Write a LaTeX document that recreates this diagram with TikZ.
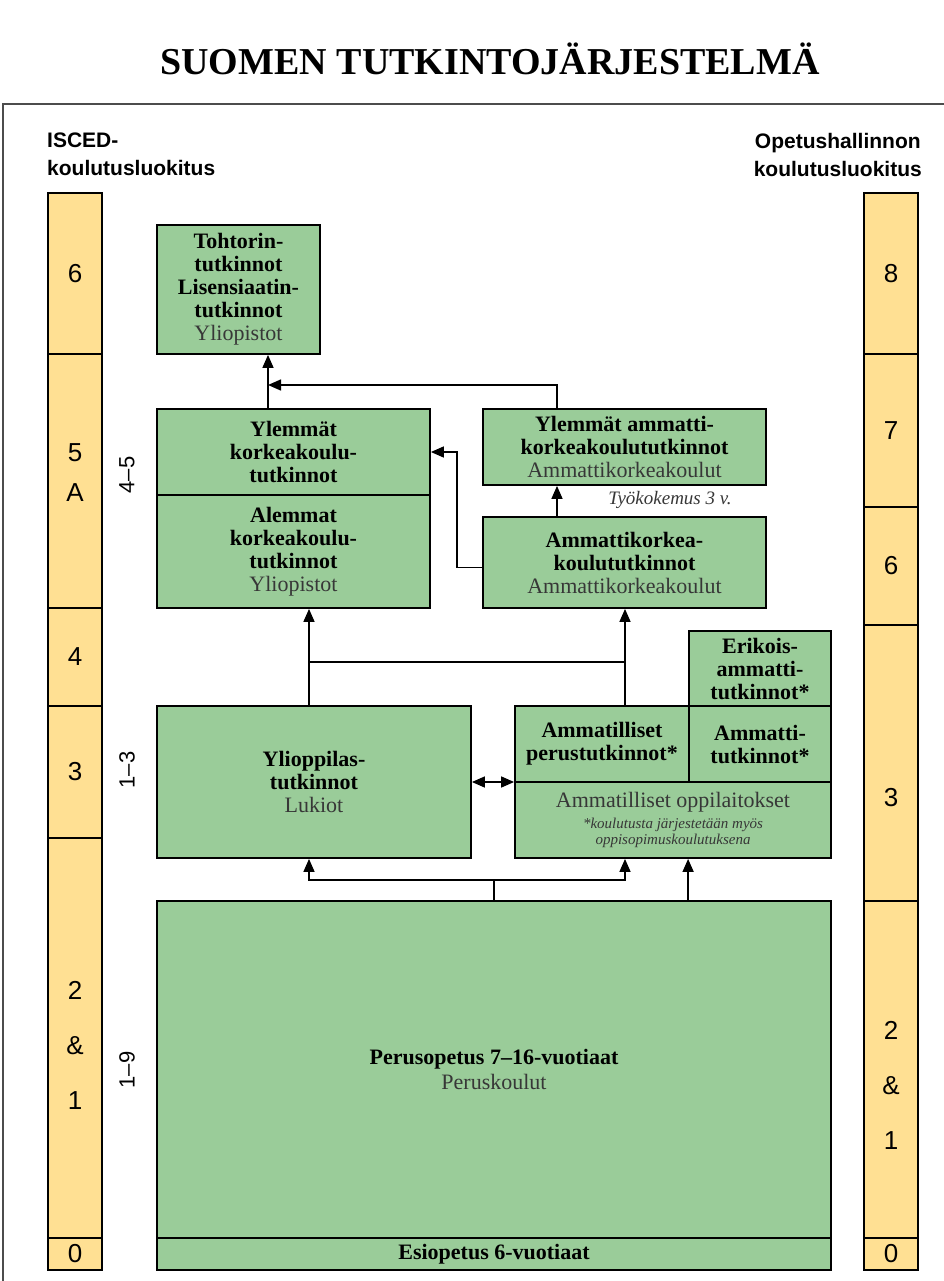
\documentclass[tikz,border=0pt]{standalone}
\usepackage{fontspec}
\setmainfont{Liberation Serif}
\setsansfont{Liberation Sans}
\usetikzlibrary{arrows.meta}
\definecolor{tgreen}{RGB}{154,204,153}
\definecolor{tyellow}{RGB}{255,224,147}
\definecolor{tgray}{RGB}{55,55,55}
\tikzset{
  box/.style={draw, line width=1.8pt, fill=tgreen, inner sep=0pt, align=center,
    font=\fontsize{22}{23}\selectfont\bfseries},
  lvl/.style={draw, line width=1.4pt, fill=tyellow, inner sep=0pt, minimum width=54pt,
    align=center, font=\sffamily\fontsize{26}{30}\selectfont},
  side/.style={inner sep=0pt, font=\sffamily\bfseries\fontsize{21}{28}\selectfont},
  band/.style={rotate=90, inner sep=0pt, font=\sffamily\fontsize{22}{24}\selectfont},
  >={Triangle[width=11pt,length=13pt]}
}
\newcommand{\inst}[1]{{\mdseries\color{tgray}#1}}
\newcommand{\huom}[1]{{\mdseries\itshape\color{tgray}\fontsize{15}{16}\selectfont #1}}

\begin{document}
\begin{tikzpicture}[x=1pt,y=-1pt]
\useasboundingbox (0,0) rectangle (944,1281);
\node[font=\bfseries\fontsize{38}{40}\selectfont, anchor=base] (title) at (490,75) {SUOMEN TUTKINTOJÄRJESTELMÄ};
\draw[line width=1.2pt, black!70] (944,104) -- (3,104) -- (3,1281);

% luokitukset
\node[side, anchor=north west, align=left] (isced) at (47,133) {ISCED-\\koulutusluokitus};
\node[side, anchor=north east, align=center] (oph) at (922,133) {Opetushallinnon\\koulutusluokitus};
\node[lvl, minimum height=161pt] (i6) at (75,273.5) {6};
\node[lvl, minimum height=254pt] (i5) at (75,481) {5\\[10pt]A\rule[-16pt]{0pt}{0pt}};
\node[lvl, minimum height=98pt] (i4) at (75,657) {4};
\node[lvl, minimum height=132pt] (i3) at (75,772) {3};
\node[lvl, minimum height=400pt] (i21) at (75,1038) {\rule{0pt}{33pt}2\\[25pt]\&\\[25pt]1};
\node[lvl, minimum height=32pt] (i0) at (75,1254) {0};
\node[lvl, minimum height=161pt] (o8) at (891,273.5) {8};
\node[lvl, minimum height=153pt] (o7) at (891,430.5) {7};
\node[lvl, minimum height=118pt] (o6) at (891,566) {6};
\node[lvl, minimum height=276pt] (o3) at (891,763) {\rule{0pt}{88pt}3};
\node[lvl, minimum height=337pt] (o21) at (891,1069.5) {\rule{0pt}{49pt}2\\[25pt]\&\\[25pt]1};
\node[lvl, minimum height=32pt] (o0) at (891,1254) {0};
\node[band] (b45) at (127,475) {4–5};
\node[band] (b13) at (127,770) {1–3};
\node[band] (b19) at (127,1070) {1–9};

% tutkinnot
\node[box, minimum width=163pt, minimum height=129pt] (toht) at (238.5,289.5)
  {Tohtorin-\\tutkinnot\\Lisensiaatin-\\tutkinnot\\\inst{Yliopistot}};
\node[box, minimum width=273pt, minimum height=86pt] (ylkk) at (293.5,452)
  {Ylemmät\\korkeakoulu-\\tutkinnot};
\node[box, minimum width=273pt, minimum height=113pt] (alkk) at (293.5,551.5)
  {Alemmat\\korkeakoulu-\\tutkinnot\\\inst{Yliopistot}};
\node[box, minimum width=283pt, minimum height=76pt] (ylamk) at (624.5,447)
  {Ylemmät ammatti-\\korkeakoulututkinnot\\\inst{Ammattikorkeakoulut}};
\node[box, minimum width=283pt, minimum height=91pt] (amk) at (624.5,562.5)
  {Ammattikorkea-\\koulututkinnot\\\inst{Ammattikorkeakoulut}};
\node[font=\itshape\fontsize{19}{20}\selectfont, text=tgray] (tyo) at (670,500) {Työkokemus 3 v.};
\node[box, minimum width=142pt, minimum height=75pt] (erik) at (760,668.5)
  {Erikois-\\ammatti-\\tutkinnot*};
\node[box, minimum width=174pt, minimum height=76pt] (ampt) at (602,744)
  {Ammatilliset\\perustutkinnot*};
\node[box, minimum width=142pt, minimum height=76pt] (amt) at (760,744)
  {Ammatti-\\tutkinnot*};
\node[box, minimum width=316pt, minimum height=76pt] (amol) at (673,820)
  {\inst{Ammatilliset oppilaitokset}\\[-2pt]
   \huom{*koulutusta järjestetään myös}\\[-7pt]\huom{oppisopimuskoulutuksena}};
\node[box, minimum width=314pt, minimum height=152pt] (ylop) at (314,782)
  {Ylioppilas-\\tutkinnot\\\inst{Lukiot}};
\node[box, minimum width=674pt, minimum height=337pt] (perus) at (494,1069.5)
  {Perusopetus 7–16-vuotiaat\\[2pt]\inst{Peruskoulut}};
\node[box, minimum width=674pt, minimum height=32pt] (esi) at (494,1254)
  {Esiopetus 6-vuotiaat};

% yhteydet
\coordinate (jt) at (268,385);
\coordinate (ja) at (309,662);
\coordinate (jb) at (625,662);
\coordinate (jc) at (494,880);
\begin{scope}[line width=1.5pt]
\draw[->] (jt |- ylkk.north) -- (jt |- toht.south);
\draw[->] ([xshift=-67.5pt]ylamk.north) |- (jt);
\draw[->] ([xshift=-67.5pt]amk.north) -- ([xshift=-67.5pt]ylamk.south);
\draw[->] ([yshift=-5pt]amk.west) -| ([xshift=26pt]ylkk.east) -- (ylkk.east);
\draw (ja) -- (jb);
\draw[->] (ja) -- (ja |- alkk.south);
\draw[->] (jb) -- (jb |- amk.south);
\draw (ja) -- (ja |- ylop.north);
\draw (jb) -- (jb |- ampt.north);
\draw[<->] (ylop.east) -- (ylop.east -| amol.west);
\draw (perus.north) -- (jc);
\draw[->] (jc) -| (ja |- ylop.south);
\draw[->] (jc) -| (jb |- amol.south);
\draw[->] (erik.west |- perus.north) -- (erik.west |- amol.south);
\end{scope}
\end{tikzpicture}
\end{document}
